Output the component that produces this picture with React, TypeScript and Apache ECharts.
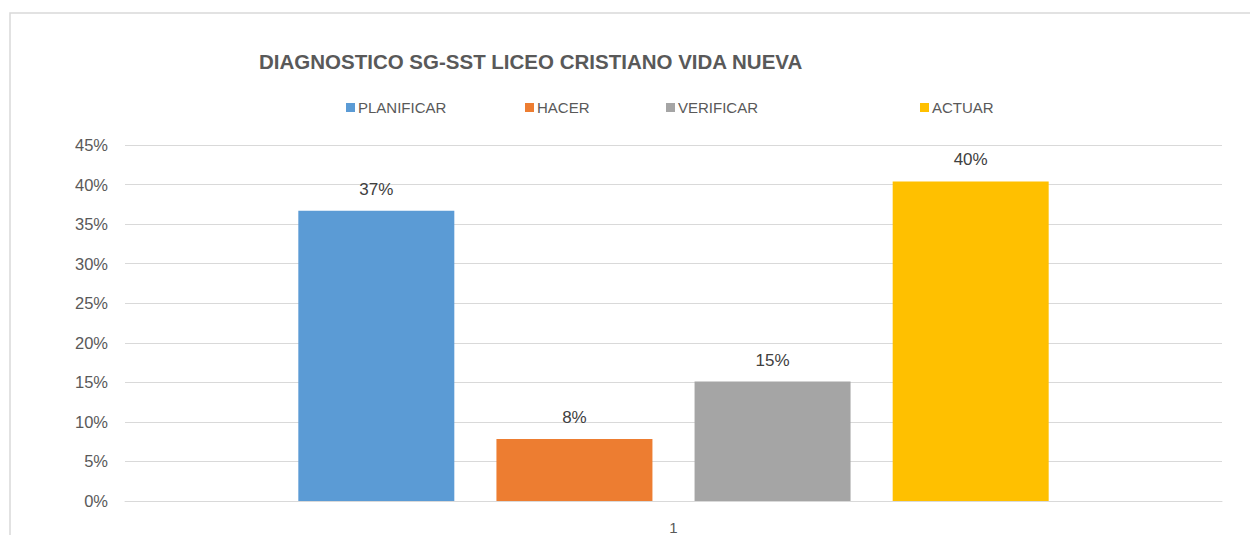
import React, { useEffect, useRef } from "react";
import * as echarts from "echarts";

const categories = ["1"];
const seriesNames = ["PLANIFICAR", "HACER", "VERIFICAR", "ACTUAR"];
const seriesValues = [36.7, 7.85, 15.1, 40.4];
const seriesColors = ["#5B9BD5", "#ED7D31", "#A5A5A5", "#FFC000"];
const legendLefts = [346, 525, 666, 920];
const titleText = "DIAGNOSTICO SG-SST LICEO CRISTIANO VIDA NUEVA";

const FONT = "'Liberation Sans', Arial, sans-serif";

export default function App() {
  const ref = useRef<HTMLDivElement>(null);
  useEffect(() => {
    if (!ref.current) return;
    const chart = echarts.init(ref.current, undefined, { renderer: "svg" });
    chart.setOption({
      animation: false,
      backgroundColor: "#ffffff",
      textStyle: { fontFamily: FONT },
      title: {
        text: titleText,
        left: 259,
        top: 51,
        padding: 0,
        textStyle: { fontFamily: FONT, fontSize: 20.5, fontWeight: "bold", color: "#595959" },
      },
      legend: seriesNames.map((n, i) => ({
        data: [n],
        left: legendLefts[i],
        top: 100,
        padding: 0,
        itemWidth: 9,
        itemHeight: 9,
        itemGap: 0,
        icon: "rect",
        selectedMode: false,
        textStyle: { fontFamily: FONT, fontSize: 15, color: "#595959", padding: [0, 0, 0, -2] },
      })),
      graphic: [
        {
          type: "rect",
          shape: { x: 10, y: 13, width: 1400, height: 700 },
          style: { fill: "none", stroke: "#d9d9d9", lineWidth: 1.5 },
          silent: true,
        },
      ],
      grid: { left: 125, right: 28, top: 145, bottom: 33, containLabel: false },
      xAxis: {
        type: "category",
        data: categories,
        axisLine: { show: true, lineStyle: { color: "#d9d9d9", width: 1 } },
        axisTick: { show: false },
        axisLabel: { color: "#595959", fontSize: 15, fontFamily: FONT, margin: 19 },
      },
      yAxis: {
        type: "value",
        min: 0,
        max: 45,
        interval: 5,
        axisLine: { show: false },
        axisTick: { show: false },
        splitLine: { lineStyle: { color: "#d9d9d9", width: 1 } },
        axisLabel: { formatter: "{value}%", color: "#595959", fontSize: 16.5, fontFamily: FONT, margin: 17 },
      },
      series: seriesNames.map((n, i) => ({
        name: n,
        type: "bar",
        data: [seriesValues[i]],
        barWidth: 156,
        barGap: "27%",
        itemStyle: { color: seriesColors[i] },
        label: {
          show: true,
          position: "top",
          distance: 13,
          color: "#404040",
          fontSize: 17,
          fontFamily: FONT,
          formatter: (p: any) => Math.round(p.value) + "%",
        },
      })),
    });
    return () => chart.dispose();
  }, []);
  return (
    <div
      ref={ref}
      style={{ position: "fixed", left: 0, top: 0, width: 1250, height: 535 }}
    />
  );
}
